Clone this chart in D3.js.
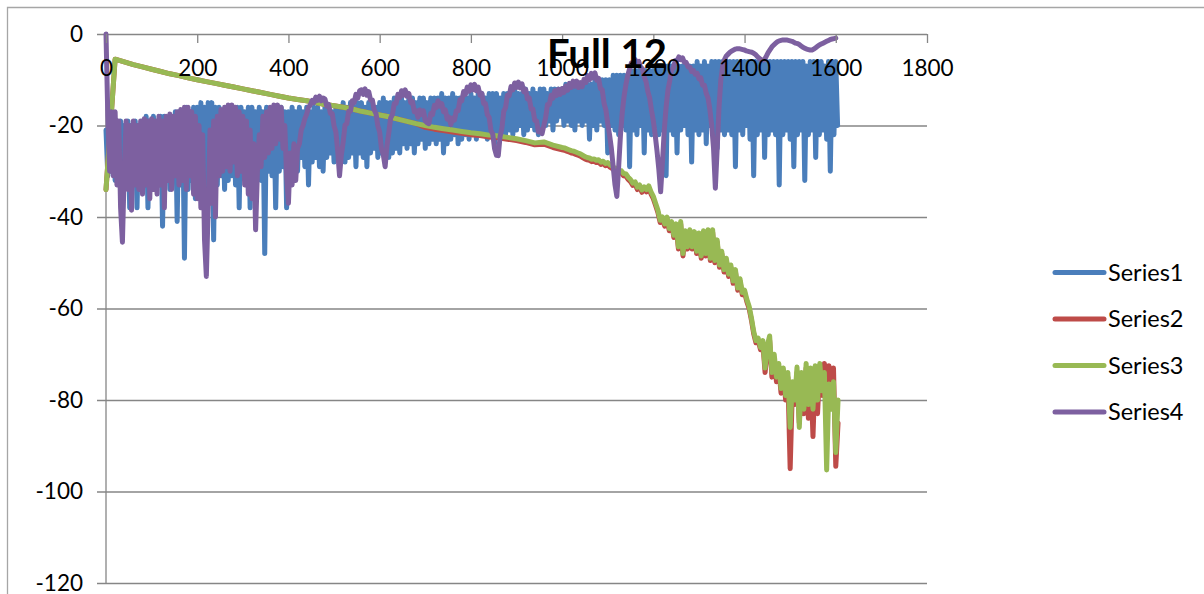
<!DOCTYPE html>
<html><head><meta charset="utf-8">
<script src="https://cdn.jsdelivr.net/npm/d3@7"></script>
<style>html,body{margin:0;padding:0;background:#fff}svg{display:block}</style>
</head><body><svg id="c" width="1204" height="594"></svg>
<script>
// ---------------- DATA ----------------
const title = "Full 12";
const xTicks = [0, 200, 400, 600, 800, 1000, 1200, 1400, 1600, 1800];
const yTicks = [0, -20, -40, -60, -80, -100, -120];
const seriesNames = ["Series1", "Series2", "Series3", "Series4"];

// sampling of the x values (x = start + index * step)
const series1Step = 4;
const series4Step = 4;
const headStep = 20;      // series2/series3 head: x = 0, 20, ..., 980
const tailStart = 1000;   // series2/series3 tail: x = 1000, 1005, ..., 1605
const tailStep = 5;

// Series1 (x = 0, 4, 8, ...)
const series1 = [
-21,-31, -20,-30, -19,-32, -20,-31, -19,-30, -20,-32, -19,-38, -20,-31, -19,-38, -20,-32,
-19,-33, -18,-38, -19,-32, -18,-31, -19,-33, -18,-42, -18,-32, -19,-34, -18,-32, -17,-41,
-17,-33, -17,-49, -16,-34, -17,-32, -16,-36, -16,-33, -15,-32, -16,-34, -15,-33, -15,-45,
-16,-33, -16,-31, -17,-34, -16,-32, -16,-31, -17,-33, -16,-38, -16,-31, -17,-33, -16,-38,
-16,-31, -17,-30, -16,-32, -17,-48, -16,-30, -17,-31, -16,-38, -17,-30, -16,-29, -17,-38,
-17,-29, -16,-28, -17,-30, -16,-27, -17,-29, -16,-33, -17,-28, -16,-27, -16,-29, -17,-30,
-16,-27, -16,-26, -17,-28, -16,-27, -16,-26, -15,-28, -16,-27, -15,-26, -16,-29, -15,-26,
-15,-27, -16,-29, -15,-26, -15,-25, -16,-27, -15,-26, -14,-25, -15,-27, -15,-26, -14,-25,
-15,-26, -14,-24, -15,-25, -14,-24, -14,-26, -15,-24, -14,-23, -14,-25, -15,-24, -14,-23,
-14,-24, -14,-23, -13,-26, -14,-24, -14,-23, -13,-22, -14,-24, -14,-23, -13,-22, -14,-23,
-13,-22, -14,-23, -13,-22, -13,-21, -14,-23, -13,-22, -13,-24, -13,-22, -14,-21, -13,-22,
-13,-21, -13,-22, -12,-21, -13,-20, -13,-22, -12,-21, -13,-20, -12,-21, -13,-22, -12,-20,
-12,-20, -13,-19, -12,-21, -12,-19, -12,-18, -12,-20, -11,-19, -12,-20, -11,-21, -12,-19,
-11,-20, -11,-19, -11,-23, -11,-20, -10,-21, -10,-19, -10,-20, -10,-26, -10,-20, -9,-21,
-9,-22, -9,-20, -9,-21, -9,-29, -8,-21, -8,-22, -8,-20, -8,-26, -8,-21, -8,-22,
-8,-20, -7,-22, -7,-21, -7,-31, -7,-21, -7,-22, -7,-26, -7,-21, -7,-20, -7,-22,
-7,-28, -7,-21, -6,-22, -7,-21, -6,-24, -7,-20, -6,-22, -6,-25, -6,-21, -6,-22,
-6,-21, -6,-22, -6,-29, -6,-21, -6,-22, -6,-20, -6,-23, -6,-31, -6,-22, -6,-21,
-6,-27, -6,-22, -6,-21, -6,-22, -6,-33, -6,-22, -6,-21, -6,-23, -6,-29, -6,-22,
-6,-21, -6,-32, -7,-22, -6,-21, -6,-27, -6,-22, -6,-21, -7,-23, -6,-30, -6,-22,
-6,-20
];

// Series2 head (x = 0..980 step 20) and tail (x = 1000..1605 step 5)
const series2Head = [
-34, -5.5, -6.1, -6.7, -7.2, -7.7, -8.2, -8.7, -9.1, -9.6,
-10.0, -10.4, -10.8, -11.2, -11.6, -12.0, -12.4, -12.8, -13.2, -13.6,
-14.0, -14.3, -14.6, -15.0, -15.4, -15.7, -16.0, -16.4, -16.9, -17.3,
-17.7, -18.1, -18.6, -19.1, -19.6, -20.4, -20.8, -21.1, -21.4, -21.7,
-22.0, -22.2, -22.5, -22.7, -23.0, -23.3, -23.7, -24.2, -24.1, -24.8
];
const series2Tail = [
-25.3, -25.4, -25.6, -25.8, -26.0, -26.1, -26.3, -26.5, -26.7, -27.0,
-27.3, -27.5, -27.6, -27.9, -27.8, -28.1, -28.0, -28.5, -28.3, -28.8,
-28.6, -29.1, -29.4, -29.8, -29.9, -30.3, -30.4, -31.0, -31.1, -31.8,
-32.3, -33.1, -32.8, -34.0, -33.5, -34.6, -33.9, -34.5, -33.7, -35.0,
-36.0, -37.5, -39.0, -41.2, -40.5, -42.0, -40.5, -43.0, -41.5, -44.5,
-42.0, -47.0, -41.5, -48.5, -43.5, -47.0, -43.3, -47.0, -43.7, -48.0,
-44.0, -49.0, -43.5, -48.5, -43.3, -49.5, -43.3, -50.0, -45.5, -51.0,
-48.0, -52.0, -49.5, -53.0, -51.0, -54.5, -52.0, -56.0, -54.0, -57.0,
-56.5, -58.5, -60.0, -62.5, -65.5, -67.5, -67.0, -69.0, -67.5, -74.0,
-69.0, -67.0, -75.0, -71.0, -76.0, -73.0, -78.5, -74.0, -80.0, -75.0,
-95.0, -77.0, -81.0, -74.0, -85.0, -75.0, -83.0, -73.0, -84.0, -74.0,
-88.0, -73.5, -83.0, -72.5, -79.0, -72.0, -81.0, -72.5, -79.0, -73.0,
-94.5, -85.0
];

// Series3 head (x = 0..980 step 20) and tail (x = 1000..1605 step 5)
const series3Head = [
-34, -5.5, -6.1, -6.7, -7.2, -7.7, -8.2, -8.7, -9.1, -9.6,
-10.0, -10.4, -10.8, -11.2, -11.6, -12.0, -12.4, -12.8, -13.2, -13.6,
-14.0, -14.3, -14.6, -15.0, -15.4, -15.7, -16.0, -16.4, -16.9, -17.3,
-17.7, -18.1, -18.6, -19.1, -19.6, -20.0, -20.4, -20.7, -21.0, -21.3,
-21.6, -21.8, -22.1, -22.3, -22.6, -22.9, -23.3, -23.8, -23.6, -24.3
];
const series3Tail = [
-24.8, -24.9, -25.1, -25.3, -25.5, -25.6, -25.8, -26.0, -26.2, -26.5,
-26.8, -27.0, -27.1, -27.4, -27.3, -27.6, -27.5, -28.0, -27.8, -28.3,
-28.1, -28.6, -28.9, -29.3, -29.4, -29.8, -29.9, -30.5, -30.6, -31.3,
-31.8, -32.6, -32.3, -33.5, -33.0, -34.1, -33.4, -34.0, -33.2, -34.5,
-35.5, -37.0, -38.5, -40.7, -40.0, -41.5, -40.0, -42.5, -41.0, -44.0,
-41.5, -46.5, -41.0, -48.0, -43.0, -46.5, -42.8, -46.5, -43.2, -47.5,
-43.5, -48.5, -43.0, -48.0, -42.8, -49.0, -42.8, -49.5, -45.0, -50.5,
-47.5, -51.5, -49.0, -52.5, -50.5, -54.0, -51.5, -55.5, -53.5, -56.5,
-56.0, -58.0, -59.5, -62.0, -65.0, -67.0, -66.5, -68.5, -67.0, -73.0,
-68.0, -66.0, -74.0, -70.0, -75.0, -72.0, -77.5, -73.0, -79.0, -74.0,
-86.0, -76.0, -80.0, -72.8, -86.0, -74.0, -82.0, -72.0, -81.0, -73.0,
-82.0, -72.5, -80.0, -72.0, -78.0, -74.0, -95.3, -76.5, -82.0, -76.0,
-91.5, -80.0
];

// Series4 (x = 0, 4, 8, ...)
const series4 = [
0, -18, -30, -17, -31, -17, -33, -19, -38, -45.5, -30, -19, -34, -20, -38.5, -19, -33, -20, -34, -19,
-35, -18.5, -33, -19, -36, -18.5, -34, -19, -35, -18, -33, -19, -38, -18, -32, -17.5, -34, -18, -31, -17,
-33, -16.5, -32, -16, -34, -16, -31, -17, -35, -18, -36, -20, -38, -22, -45, -53, -38, -21, -37, -19,
-40, -18, -31, -16.5, -30, -16, -29, -15.5, -30, -15.5, -28, -16, -31, -17, -30, -18, -33, -19, -35, -21,
-36, -24, -42.8, -30, -22, -29, -18, -27, -17, -26, -16, -25, -15.5, -24, -15.5, -23, -16, -25, -20, -31,
-37, -26, -33, -24, -32, -25, -24, -21, -20, -18.5, -17.5, -16, -15.5, -14.5, -15, -13.8, -14.5, -13.6, -14.6, -14,
-14.2, -15.8, -15.4, -17.4, -17.4, -20.1, -21.4, -25.6, -31, -26.4, -23.6, -19.9, -19.6, -16.9, -16.9, -14.6, -15.0, -13.2, -14.0, -12.4,
-12.2, -13.2, -12.0, -13.4, -12.6, -14.4, -14.4, -16.6, -17.4, -20.1, -21.4, -25.1, -26.4, -29, -24.4, -21.6, -18.4, -17.6, -15.2, -15.2,
-13.2, -13.9, -12.4, -13.4, -12.2, -13.6, -13.0, -15.0, -14.8, -17.0, -16.8, -18.2, -16.6, -17.6, -16.8, -19.0, -19.4, -19.6, -17.4, -17.6,
-15.6, -16.1, -14.6, -15.8, -15.2, -17.0, -16.6, -18.6, -18.2, -19.8, -18.4, -18.8, -16.8, -16.8, -14.4, -14.6, -12.6, -13.2, -11.6, -12.5,
-11.1, -12.2, -11.0, -12.4, -11.6, -13.4, -13.0, -15.2, -15.2, -17.6, -18.2, -21.1, -21.9, -25.1, -26.5, -26.6, -22.4, -20.6, -16.9, -16.1,
-13.4, -13.5, -11.5, -12.2, -10.7, -11.7, -10.5, -11.8, -10.9, -12.6, -12.1, -14.2, -14.0, -16.4, -16.4, -18.9, -19.0, -21.4, -21.0, -21.8,
-20, -18.2, -15.4, -15.4, -13.4, -14.0, -12.4, -13.4, -12.1, -13.2, -11.9, -12.8, -11.4, -12.3, -10.8, -11.7, -10.3, -11.4, -10.3, -11.7,
-10.6, -11.5, -9.9, -10.6, -9.1, -10.0, -8.6, -9.6, -8.5, -10.1, -9.7, -11.9, -12.2, -15.2, -16.6, -19.6, -22, -25, -29, -33,
-35.5, -29, -22, -17, -13.5, -11, -9, -7.6, -6.3, -6.2, -5.6, -6.2, -6.0, -7.2, -7.6, -9.4, -10.4, -12.6, -14.0, -16.7,
-19, -22, -25.5, -29.5, -34.5, -28, -21, -16, -12.3, -10.2, -7.8, -7.4, -5.8, -5.8, -5.0, -5.6, -5.2, -6.2, -6.2, -7.2,
-7.2, -8.2, -8.0, -8.8, -8.6, -9.8, -9.6, -11.2, -11.2, -13.0, -14, -16.5, -20, -25, -33.7, -25, -16, -10, -7, -5.6,
-4.8, -4.4, -4, -3.7, -3.5, -3.3, -3.2, -3.2, -3.3, -3.4, -3.5, -3.7, -3.8, -3.9, -4, -4.2, -4.5, -4.9, -5.3, -5.6,
-5.7, -5.5, -4.8, -4, -3.4, -2.8, -2.4, -2, -1.7, -1.5, -1.4, -1.3, -1.3, -1.3, -1.4, -1.5, -1.6, -1.8, -2, -2.1,
-2.3, -2.6, -2.9, -3.1, -3.3, -3.4, -3.5, -3.5, -3.3, -3, -2.7, -2.4, -2.2, -2, -1.8, -1.6, -1.4, -1.2, -1.1, -1,
-0.9
];

// ---------------- DRAWING ----------------
const colors = ["#4A7EBB", "#BE4B48", "#98B954", "#7D60A0"];
const stepPoints = (vals, start, step) => vals.map((v, k) => [start + k * step, v]);
const headTail = (head, tail) => stepPoints(head, 0, headStep).concat(stepPoints(tail, tailStart, tailStep));
const allSeries = [
  {name: seriesNames[0], pts: stepPoints(series1, 0, series1Step)},
  {name: seriesNames[1], pts: headTail(series2Head, series2Tail)},
  {name: seriesNames[2], pts: headTail(series3Head, series3Tail)},
  {name: seriesNames[3], pts: stepPoints(series4, 0, series4Step)}
];

const svg = d3.select("#c");
const x = d3.scaleLinear().domain([0, 1800]).range([106, 927]);
const y = d3.scaleLinear().domain([-120, 0]).range([583, 34]);
const gridColor = "#868686";
const font = "Lato, 'Open Sans', sans-serif";

// outer chart frame
svg.append("path").attr("d", "M7.5,594V7.5H1204")
  .attr("fill", "none").attr("stroke", "#a6a6a6").attr("stroke-width", 1.3);

// horizontal gridlines + y labels
const yAxis = d3.axisLeft(y).tickValues(yTicks)
  .tickSizeInner(-(x(1800) - 97)).tickSizeOuter(0).tickPadding(14);
const gy = svg.append("g").attr("transform", "translate(97,0)").call(yAxis);
gy.select(".domain").remove();
gy.selectAll("line").attr("stroke", gridColor).attr("stroke-width", 1.3);
gy.selectAll("text").attr("font-family", font).attr("font-size", 22.5).attr("fill", "#000")
  .text(d => d < 0 ? "-" + Math.abs(d) : String(d));

// vertical value axis line
svg.append("line").attr("x1", x(0)).attr("x2", x(0)).attr("y1", y(0)).attr("y2", y(-120))
  .attr("stroke", gridColor).attr("stroke-width", 1.3);

// category (x) axis at value 0 (top)
const xAxis = d3.axisBottom(x).tickValues(xTicks).tickSizeInner(9).tickSizeOuter(0).tickPadding(0)
  .tickFormat(d3.format("d"));
const gx = svg.append("g").attr("transform", `translate(0,${y(0)})`).call(xAxis);
gx.select(".domain").remove();
gx.selectAll("line").attr("stroke", gridColor).attr("stroke-width", 1.3);
gx.selectAll("text").attr("font-family", font).attr("font-size", 22.5).attr("fill", "#000")
  .attr("y", 42).attr("dy", 0);

// series lines
const line = d3.line().x(d => x(d[0])).y(d => y(d[1]));
allSeries.forEach((s, i) => {
  svg.append("path").datum(s.pts).attr("d", line)
    .attr("fill", "none").attr("stroke", colors[i]).attr("stroke-width", 5)
    .attr("stroke-linejoin", "round").attr("stroke-linecap", "round");
});

// axis labels drawn above the series, as in the reference
gx.raise();

// title
svg.append("text").attr("x", 607).attr("y", 68).attr("text-anchor", "middle")
  .attr("font-family", font).attr("font-weight", "bold").attr("font-size", 40).attr("fill", "#000")
  .text(title);

// legend
const lg = svg.append("g");
allSeries.forEach((s, i) => {
  const ly = 272.5 + i * 46.5;
  lg.append("line").attr("x1", 1055).attr("x2", 1104).attr("y1", ly).attr("y2", ly)
    .attr("stroke", colors[i]).attr("stroke-width", 5).attr("stroke-linecap", "round");
  lg.append("text").attr("x", 1108).attr("y", ly).attr("dy", "0.35em")
    .attr("font-family", font).attr("font-size", 23.5).attr("fill", "#000").text(s.name);
});
</script>
</body></html>
